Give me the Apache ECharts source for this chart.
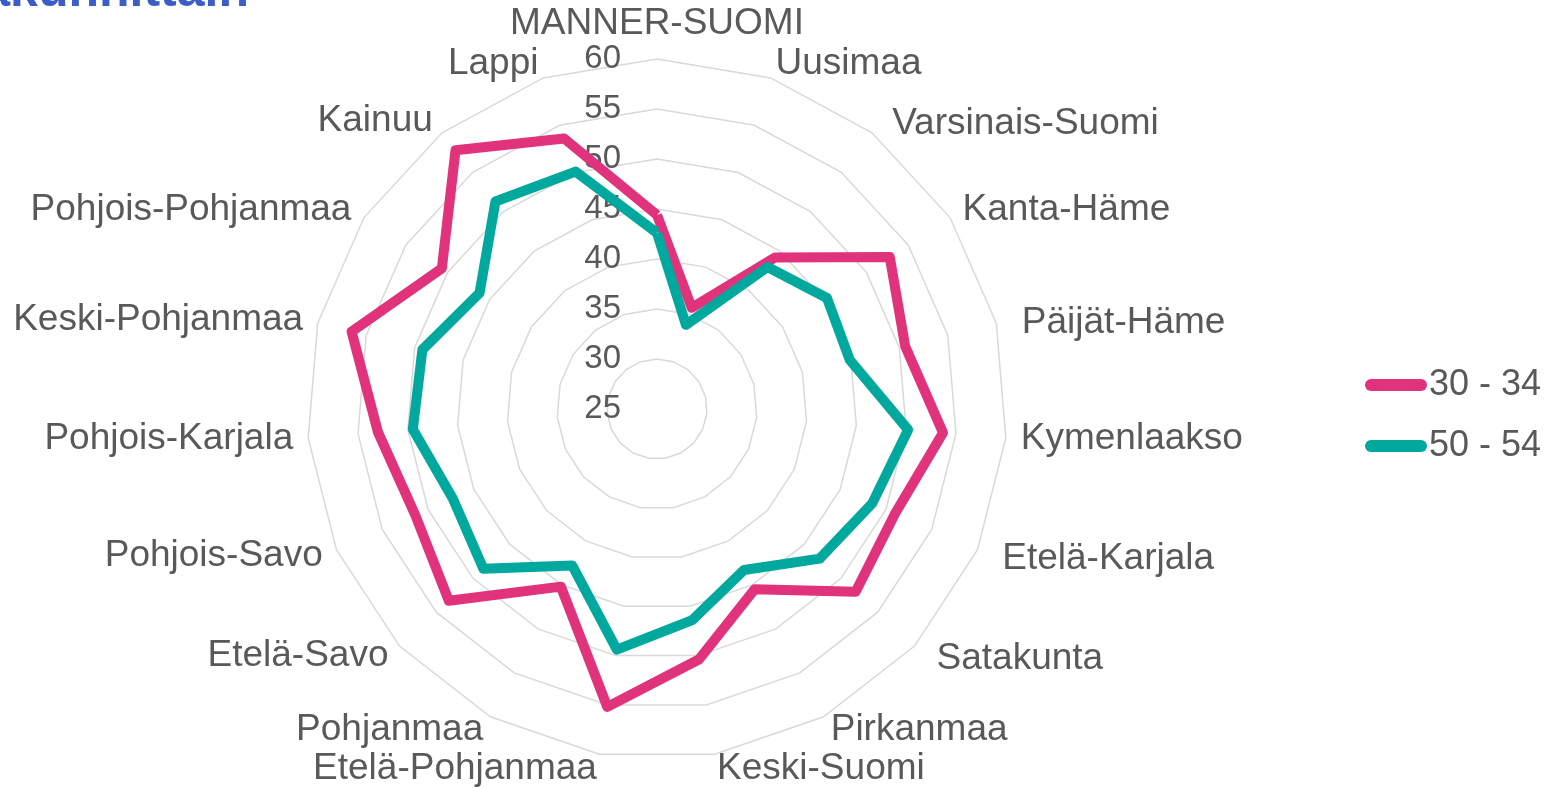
<!DOCTYPE html>
<html>
<head>
<meta charset="utf-8">
<script src="https://cdn.jsdelivr.net/npm/echarts@6/dist/echarts.min.js"></script>
<style>
  html, body { margin: 0; padding: 0; background: #fff; }
  #radar { width: 1552px; height: 788px; }
</style>
</head>
<body>
<div id="radar"></div>
<script>
const regions = ['MANNER-SUOMI', 'Uusimaa', 'Varsinais-Suomi', 'Kanta-Häme', 'Päijät-Häme', 'Kymenlaakso',
  'Etelä-Karjala', 'Satakunta', 'Pirkanmaa', 'Keski-Suomi', 'Etelä-Pohjanmaa', 'Pohjanmaa', 'Etelä-Savo',
  'Pohjois-Savo', 'Pohjois-Karjala', 'Keski-Pohjanmaa', 'Pohjois-Pohjanmaa', 'Kainuu', 'Lappi']
const age30to34 = [44.4, 35.7, 44.2, 52.8, 50.6, 53.7, 51.0, 52.0, 45.5, 50.4, 55.2, 45.2, 53.3, 51.4, 53.0, 56.5, 50.7, 57.8, 53.6]
const age50to54 = [42.6, 33.9, 43.0, 45.3, 44.9, 50.2, 48.5, 47.1, 43.3, 46.4, 49.4, 42.8, 48.6, 47.3, 49.5, 49.2, 46.2, 51.3, 50.1]
const seriesNames = ['30 - 34', '50 - 54']
const scaleMin = 25
const scaleMax = 60

const textColor = '#595959'
const font = 'Liberation Sans, Arial, sans-serif'

// a few names sit a little further right in the original
const shiftedNames = ['Varsinais-Suomi', 'Päijät-Häme', 'Etelä-Karjala', 'Satakunta']

// echarts radar runs counter-clockwise, so keep the first item and reverse the rest
const clockwise = arr => [arr[0]].concat(arr.slice(1).reverse())

// only the first spoke carries the scale labels
const indicators = clockwise(regions).map((name, i) => {
  const ind = { name: name, min: scaleMin, max: scaleMax }
  if (i === 0) ind.axisLabel = { show: true }
  return ind
})

const option = {
  animation: false,
  title: {
    text: 'maakunnittain',
    left: -95,
    top: -38,
    textStyle: { color: '#3A5DC8', fontSize: 50, fontWeight: 'bold', fontFamily: font }
  },
  legend: {
    orient: 'vertical',
    left: 1360,
    top: 362,
    itemWidth: 62,
    itemHeight: 13,
    itemGap: 25,
    icon: 'path://M6,0 L56,0 A6,6 0 0 1 56,12 L6,12 A6,6 0 0 1 6,0 Z',
    textStyle: { color: textColor, fontSize: 36, fontFamily: font, padding: [0, 0, 0, -3] },
    data: seriesNames
  },
  radar: {
    center: [657, 409],
    radius: 350,
    startAngle: 90,
    splitNumber: 7,
    shape: 'polygon',
    indicator: indicators,
    axisName: {
      color: textColor,
      fontSize: 37,
      fontFamily: font,
      formatter: name => shiftedNames.includes(name) ? '{shift|' + name + '}' : name,
      rich: {
        shift: { color: textColor, fontSize: 37, fontFamily: font, padding: [6, 0, 0, 11] }
      }
    },
    nameGap: 15,
    axisLine: { show: false },
    axisTick: { show: false },
    axisLabel: { show: false, color: textColor, fontSize: 33, fontFamily: font, margin: 36 },
    splitLine: { lineStyle: { color: '#D9D9D9', width: 1.5 } },
    splitArea: { show: false }
  },
  series: [{
    type: 'radar',
    symbol: 'none',
    data: [
      { name: seriesNames[0], value: clockwise(age30to34), lineStyle: { color: '#E0337B', width: 10 }, itemStyle: { color: '#E0337B' } },
      { name: seriesNames[1], value: clockwise(age50to54), lineStyle: { color: '#00A89D', width: 10, join: 'round' }, itemStyle: { color: '#00A89D' } }
    ]
  }]
}

const chart = echarts.init(document.getElementById('radar'))
chart.setOption(option)
</script>
</body>
</html>
